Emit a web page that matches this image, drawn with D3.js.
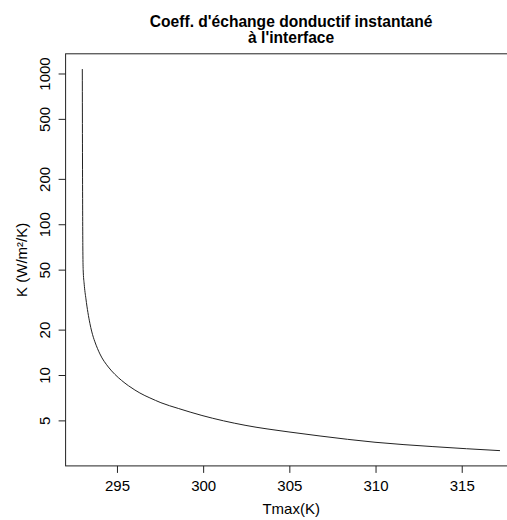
<!DOCTYPE html>
<html>
<head>
<meta charset="utf-8">
<script src="https://cdn.jsdelivr.net/npm/d3@7"></script>
<style>
  html, body { margin: 0; padding: 0; background: #fff; }
  svg { display: block; font-family: "Liberation Sans", Arial, sans-serif; }
</style>
</head>
<body>
<svg id="chart" width="507" height="520"></svg>
<script>
// ---- data ----
const tmax = [292.99, 293.00, 293.02, 293.04, 293.10, 293.20, 293.43, 293.63, 293.72,
  294.01, 294.50, 294.88, 295.27, 295.66, 296.04, 296.62, 296.91, 297.55, 298.56,
  299.93, 302.43, 304.98, 306.78, 309.97, 313.33, 317.22];
const kValues = [1070, 300, 72, 50, 40, 32, 22, 17.8, 16.6,
  13.8, 11.3, 10.1, 9.2, 8.5, 7.95, 7.3, 7.05, 6.55, 6.0,
  5.39, 4.64, 4.19, 3.94, 3.58, 3.35, 3.15];
const xTickValues = [295, 300, 305, 310, 315];
const yTickValues = [5, 10, 20, 50, 100, 200, 500, 1000];
const titleLines = ["Coeff. d'échange donductif instantané", "à l'interface"];
const xLabel = "Tmax(K)";
const yLabel = "K (W/m²/K)";

// ---- layout ----
const svg = d3.select("#chart");
const pLeft = 65.6, pRight = 516.7, pTop = 53.8, pBottom = 465.9;

const xExt = d3.extent(tmax);
const xPad = (xExt[1] - xExt[0]) * 0.04;
const x = d3.scaleLinear().domain([xExt[0] - xPad, xExt[1] + xPad]).range([pLeft, pRight]);

const lExt = d3.extent(kValues).map(Math.log10);
const lPad = (lExt[1] - lExt[0]) * 0.04;
const y = d3.scaleLog().domain([Math.pow(10, lExt[0] - lPad), Math.pow(10, lExt[1] + lPad)]).range([pBottom, pTop]);

svg.append("rect").attr("width", 507).attr("height", 520).attr("fill", "#fff");

const ink = "#222";

// curve
const pts = tmax.map((t, i) => [t, kValues[i]]);
svg.append("path")
  .datum(pts)
  .attr("fill", "none")
  .attr("stroke", ink)
  .attr("stroke-width", 1)
  .attr("d", d3.line().curve(d3.curveMonotoneX).x(d => x(d[0])).y(d => y(d[1])));

// box
svg.append("rect")
  .attr("x", pLeft).attr("y", pTop)
  .attr("width", pRight - pLeft).attr("height", pBottom - pTop)
  .attr("fill", "none").attr("stroke", ink).attr("stroke-width", 1);

// x axis
const xAxis = svg.append("g")
  .attr("transform", `translate(0,${pBottom})`)
  .call(d3.axisBottom(x).tickValues(xTickValues).tickSize(7).tickSizeOuter(0).tickPadding(7)
    .tickFormat(d3.format("d")));
xAxis.select(".domain").remove();
xAxis.selectAll("line").attr("stroke", ink);
xAxis.selectAll("text").attr("font-size", 15).attr("fill", "#000")
  .attr("font-family", "'Liberation Sans', Arial, sans-serif");

// y axis
const yAxis = svg.append("g")
  .attr("transform", `translate(${pLeft},0)`)
  .call(d3.axisLeft(y).tickValues(yTickValues).tickSize(7).tickSizeOuter(0)
    .tickFormat(d3.format("d")));
yAxis.select(".domain").remove();
yAxis.selectAll("line").attr("stroke", ink);
yAxis.selectAll("text")
  .attr("font-size", 15).attr("fill", "#000")
  .attr("font-family", "'Liberation Sans', Arial, sans-serif")
  .attr("transform", "rotate(-90)")
  .attr("x", 0).attr("y", -15.5).attr("dy", 0)
  .attr("text-anchor", "middle");

// axis titles
svg.append("text")
  .attr("x", (pLeft + pRight) / 2).attr("y", 514)
  .attr("text-anchor", "middle").attr("font-size", 15).attr("fill", "#000")
  .text(xLabel);
svg.append("text")
  .attr("transform", `translate(26.7,${(pTop + pBottom) / 2}) rotate(-90)`)
  .attr("text-anchor", "middle").attr("font-size", 15).attr("fill", "#000")
  .text(yLabel);

// title
svg.selectAll("text.title")
  .data(titleLines)
  .enter().append("text")
  .attr("class", "title")
  .attr("x", (pLeft + pRight) / 2)
  .attr("y", (d, i) => 26.7 + i * 16.6)
  .attr("text-anchor", "middle")
  .attr("font-size", 15.6).attr("font-weight", "bold").attr("fill", "#000")
  .text(d => d);
</script>
</body>
</html>
